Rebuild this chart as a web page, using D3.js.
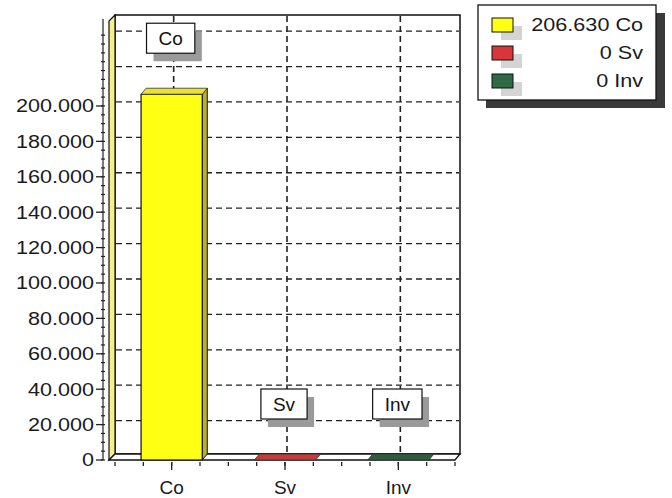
<!DOCTYPE html>
<html><head><meta charset="utf-8">
<script src="https://cdn.jsdelivr.net/npm/d3@7/dist/d3.min.js"></script>
<style>body{margin:0;background:#fff}svg{display:block;font-family:"Liberation Sans",Arial,sans-serif}</style>
</head><body><svg id="c" width="672" height="498"></svg>
<script>
const categories = ["Co", "Sv", "Inv"];
const values = [206630, 0, 0];
const frontColors = ["#ffff14", "#d8363a", "#2e6a44"];
const topColors = ["#e8e22a", "#c9393b", "#2c5e3e"];
const sideColors = ["#b8b030", "#8e2a2a", "#1f4a30"];
const yTickValues = [0, 20000, 40000, 60000, 80000, 100000, 120000, 140000, 160000, 180000, 200000];
const yGridValues = [20000, 40000, 60000, 80000, 100000, 120000, 140000, 160000, 180000, 200000, 220000, 240000];
const legendLabels = ["206.630 Co", "0 Sv", "0 Inv"];

const svg = d3.select("#c");
const fmt = d3.formatLocale({decimal: ",", thousands: ".", grouping: [3], currency: ["", ""]}).format(",d");

const plotLeft = 115, plotRight = 455, floorY = 460;
const dX = 5, dY = -6;
const y = d3.scaleLinear().domain([0, 248000]).range([floorY, 21]);
const x = d3.scaleBand().domain(categories).range([plotLeft, plotRight]);
const bw = x.bandwidth() * 0.54;
const cx = c => x(c) + x.bandwidth() / 2;

const backTop = y(248000) + dY, backBottom = floorY + dY;
const backLeft = plotLeft, backRight = plotRight + dX;

// back wall
svg.append("rect").attr("x", backLeft).attr("y", backTop).attr("width", backRight - backLeft).attr("height", backBottom - backTop)
  .attr("fill", "#fff").attr("stroke", "#111").attr("stroke-width", 1.5);
// left wall
svg.append("polygon").attr("points", [[backLeft - 6, backTop + 6], [backLeft, backTop], [backLeft, backBottom], [backLeft - 6, floorY]].join(" "))
  .attr("fill", "#f6f08a").attr("stroke", "#111").attr("stroke-width", 1.2);

// horizontal gridlines
svg.append("g").selectAll("line").data(yGridValues).join("line")
  .attr("x1", backLeft + 1).attr("x2", backRight - 1)
  .attr("y1", d => y(d) + dY + 2).attr("y2", d => y(d) + dY + 2)
  .attr("stroke", "#222").attr("stroke-width", 1.3).attr("stroke-dasharray", "6,4");
// vertical gridlines
svg.append("g").selectAll("line").data(categories).join("line")
  .attr("x1", d => cx(d) + 2).attr("x2", d => cx(d) + 2)
  .attr("y1", backTop + 1).attr("y2", backBottom)
  .attr("stroke", "#222").attr("stroke-width", 1.6).attr("stroke-dasharray", "6,4");

// floor
svg.append("polygon").attr("points", [[backLeft - 6, floorY], [backLeft, backBottom], [backRight, backBottom], [plotRight, floorY]].join(" "))
  .attr("fill", "#fff").attr("stroke", "#111").attr("stroke-width", 1.3);

// bars
const bars = svg.append("g").selectAll("g").data(categories).join("g");
bars.each(function (c, i) {
  const g = d3.select(this);
  const x0 = cx(c) - bw / 2, x1 = cx(c) + bw / 2, yt = y(values[i]);
  if (floorY - yt > 0.5) {
    g.append("polygon").attr("points", [[x1, yt], [x1 + dX, yt + dY], [x1 + dX, floorY + dY], [x1, floorY]].join(" "))
      .attr("fill", sideColors[i]).attr("stroke", "#111").attr("stroke-width", 1);
    g.append("rect").attr("x", x0).attr("y", yt).attr("width", bw).attr("height", floorY - yt)
      .attr("fill", frontColors[i]).attr("stroke", "#111").attr("stroke-width", 1.2);
  }
  g.append("polygon").attr("points", [[x0, yt], [x0 + dX, yt + dY], [x1 + dX, yt + dY], [x1, yt]].join(" "))
    .attr("fill", topColors[i]).attr("stroke", "#333").attr("stroke-width", 0.8);
});

// value labels with shadow
const lab = svg.append("g").selectAll("g").data(categories).join("g");
lab.each(function (c, i) {
  const g = d3.select(this);
  const ccx = cx(c) - 1, ccy = y(values[i]) - 56;
  const t = g.append("text").text(c).attr("font-size", 19).attr("x", ccx).attr("y", ccy + 7).attr("text-anchor", "middle").attr("fill", "#111");
  const w = t.node().getComputedTextLength() + 24, h = 30;
  g.insert("rect", "text").attr("x", ccx - w / 2 + 7).attr("y", ccy - h / 2 + 8).attr("width", w).attr("height", h).attr("fill", "#9a9a9a");
  g.insert("rect", "text").attr("x", ccx - w / 2).attr("y", ccy - h / 2).attr("width", w).attr("height", h).attr("fill", "#fff").attr("stroke", "#111").attr("stroke-width", 1.2);
});

// y axis
const axisX = 103;
svg.append("line").attr("x1", axisX).attr("x2", axisX).attr("y1", backTop + 4).attr("y2", floorY).attr("stroke", "#222").attr("stroke-width", 1.2);
svg.append("g").selectAll("line").data(d3.range(0, 245000, 5000)).join("line")
  .attr("x1", axisX - 2).attr("x2", axisX + 2).attr("y1", d => y(d)).attr("y2", d => y(d)).attr("stroke", "#222").attr("stroke-width", 1.2);
const yt = svg.append("g").selectAll("g").data(yTickValues).join("g").attr("transform", d => `translate(0,${y(d)})`);
yt.append("line").attr("x1", axisX - 7).attr("x2", axisX).attr("stroke", "#222").attr("stroke-width", 1.3);
yt.append("text").attr("transform", `translate(${axisX - 9},0) scale(1.2,1)`).attr("dy", "0.36em").attr("text-anchor", "end")
  .attr("font-size", 18).attr("fill", "#1a1a1a").text(d => fmt(d));

// x axis ticks and labels
const minorX = d3.range(0, 13).map(k => plotLeft + k * (plotRight - plotLeft) / 12);
svg.append("g").selectAll("line").data(minorX).join("line")
  .attr("x1", d => d).attr("x2", d => d).attr("y1", floorY + 2).attr("y2", floorY + 6).attr("stroke", "#222").attr("stroke-width", 1.3);
svg.append("g").selectAll("line").data(categories).join("line")
  .attr("x1", d => cx(d)).attr("x2", d => cx(d)).attr("y1", floorY + 2).attr("y2", floorY + 10).attr("stroke", "#222").attr("stroke-width", 1.3);
svg.append("g").selectAll("text").data(categories).join("text")
  .attr("x", d => cx(d)).attr("y", 494).attr("text-anchor", "middle").attr("font-size", 19).attr("fill", "#1a1a1a").text(d => d);

// legend
const L = svg.append("g");
L.append("rect").attr("x", 486).attr("y", 13).attr("width", 179).attr("height", 95).attr("fill", "#3a3a3a");
L.append("rect").attr("x", 478).attr("y", 5).attr("width", 178).attr("height", 95).attr("fill", "#fff").attr("stroke", "#111").attr("stroke-width", 1.3);
const le = L.selectAll("g").data(categories).join("g").attr("transform", (d, i) => `translate(0,${18 + i * 28})`);
le.append("rect").attr("x", 501).attr("y", 8).attr("width", 21).attr("height", 14).attr("fill", "#d4d4d4");
le.append("rect").attr("x", 492).attr("y", 0).attr("width", 21).attr("height", 14).attr("fill", (d, i) => frontColors[i]).attr("stroke", "#111").attr("stroke-width", 1);
le.append("text").attr("transform", "translate(643,13) scale(1.2,1)").attr("text-anchor", "end").attr("font-size", 18).attr("fill", "#1a1a1a").text((d, i) => legendLabels[i]);
</script></body></html>
